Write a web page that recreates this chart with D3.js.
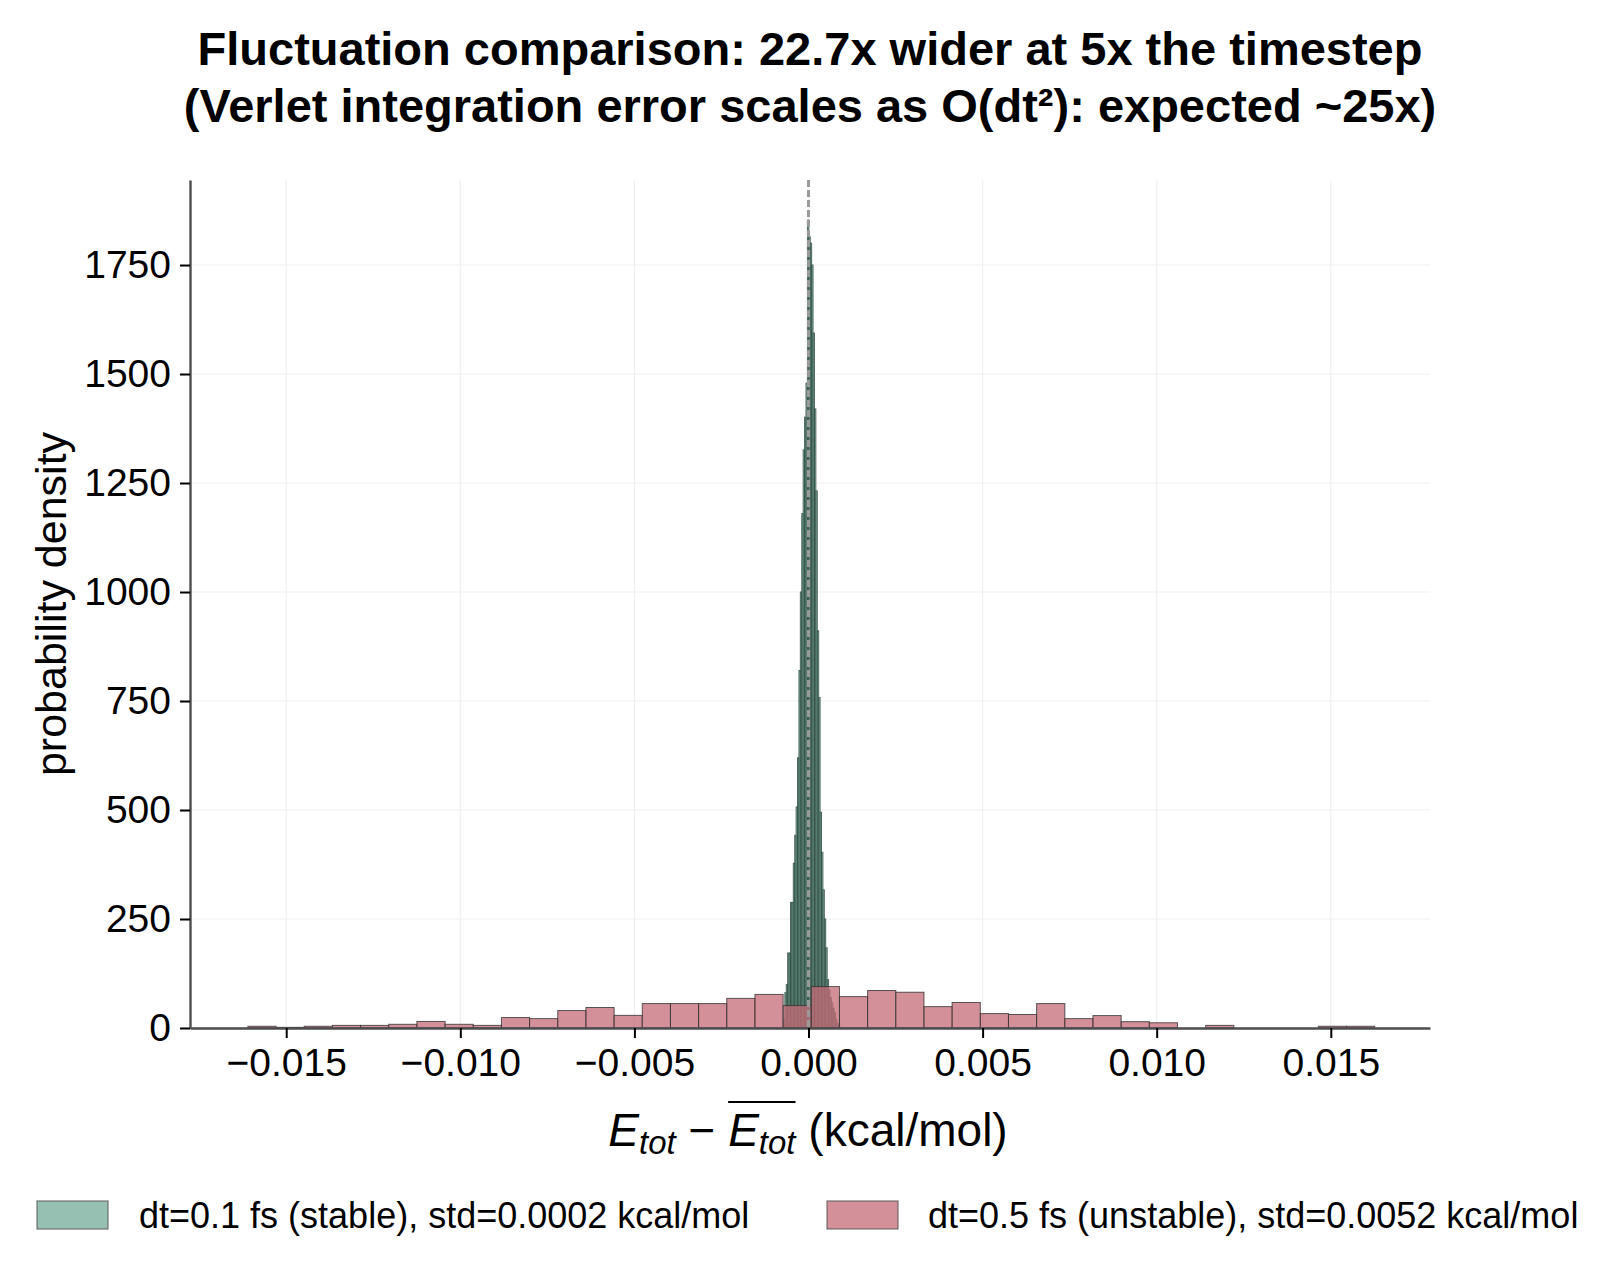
<!DOCTYPE html>
<html>
<head>
<meta charset="utf-8">
<script src="https://cdn.jsdelivr.net/npm/d3@7"></script>
<style>
  body { margin: 0; background: #fff; }
  text { font-family: "Liberation Sans", Arial, Helvetica, sans-serif; fill: #000; }
</style>
</head>
<body>
<script>
// chart text
const titleLines = [
  'Fluctuation comparison: 22.7x wider at 5x the timestep',
  '(Verlet integration error scales as O(dt\u00b2): expected ~25x)'
]
const yLabel = 'probability density'
const legendLabels = [
  'dt=0.1 fs (stable), std=0.0002 kcal/mol',
  'dt=0.5 fs (unstable), std=0.0052 kcal/mol'
]

// axes
const xTicks = [-0.015, -0.010, -0.005, 0.000, 0.005, 0.010, 0.015]
const yTicks = [0, 250, 500, 750, 1000, 1250, 1500, 1750]

// dt=0.1 fs histogram (40 bins over this range), density
const stableRange = [-0.00072, 0.00090]
const stableDensity = [
  20, 81, 100, 172, 172, 288, 288, 378, 442, 507,
  620, 820, 1000, 1180, 1326, 1401, 1479, 1853, 1815, 1800,
  1750, 1594, 1420, 1232, 911, 758, 495, 403, 317, 250,
  184, 111, 87, 70, 58, 45, 35, 19, 10, 5
]

// dt=0.5 fs histogram (40 bins over this range)
const unstableRange = [-0.0161, 0.01626]
const unstableDensity = [
  4, 1.5, 4, 6, 6, 8.5, 15, 8.5, 6, 24,
  21.5, 40, 47, 29, 56, 56, 56, 68, 77, 51.5,
  95, 72, 86, 82, 49, 58.5, 33, 31, 56, 21.5,
  28.5, 14.5, 12, 0, 6, 0, 0, 0, 4, 4
]

const GREEN = '#73ab98'
const RED = '#c66b76'
const ALPHA = 0.75

const width = 1617
const height = 1270
const plot = { left: 190, right: 1430, top: 180, bottom: 1028 }

const svg = d3.select('body').append('svg')
  .attr('width', width)
  .attr('height', height)

const x = d3.scaleLinear().domain([-0.017763, 0.017849]).range([plot.left, plot.right])
const y = d3.scaleLinear().domain([0, 1945]).range([plot.bottom, plot.top])

function toBins(range, dens) {
  const w = (range[1] - range[0]) / dens.length
  return dens.map((d, i) => ({ x0: range[0] + i * w, x1: range[0] + (i + 1) * w, d: d }))
}

// grid
const grid = svg.append('g')
grid.selectAll('line.gy').data(yTicks).enter().append('line')
  .attr('x1', plot.left).attr('x2', plot.right)
  .attr('y1', d => y(d)).attr('y2', d => y(d))
  .attr('stroke', '#efefef').attr('stroke-width', 1.2)
grid.selectAll('line.gx').data(xTicks).enter().append('line')
  .attr('y1', plot.top).attr('y2', plot.bottom)
  .attr('x1', d => x(d)).attr('x2', d => x(d))
  .attr('stroke', '#efefef').attr('stroke-width', 1.2)

// histograms
function drawHist(bins, color, edge) {
  svg.append('g').selectAll('rect').data(bins).enter().append('rect')
    .attr('x', d => x(d.x0))
    .attr('width', d => x(d.x1) - x(d.x0))
    .attr('y', d => y(d.d))
    .attr('height', d => y(0) - y(d.d))
    .attr('fill', color)
    .attr('fill-opacity', ALPHA)
    .attr('stroke', edge)
    .attr('stroke-opacity', 0.8)
    .attr('stroke-width', 1)
}
drawHist(toBins(stableRange, stableDensity), GREEN, '#2c4840')
drawHist(toBins(unstableRange, unstableDensity), RED, '#333')

// mean line
svg.append('line')
  .attr('x1', x(0)).attr('x2', x(0))
  .attr('y1', plot.top).attr('y2', plot.bottom)
  .attr('stroke', '#9a9a9a').attr('stroke-width', 3)
  .attr('stroke-dasharray', '7,3')

// axes
const xAxis = svg.append('g')
  .attr('transform', `translate(0,${plot.bottom})`)
  .call(d3.axisBottom(x).tickValues(xTicks).tickFormat(d3.format('.3f')).tickSize(10).tickSizeOuter(0).tickPadding(10))
const yAxis = svg.append('g')
  .attr('transform', `translate(${plot.left},0)`)
  .call(d3.axisLeft(y).tickValues(yTicks).tickFormat(d3.format('d')).tickSize(10).tickSizeOuter(0).tickPadding(9))

;[xAxis, yAxis].forEach(ax => {
  ax.select('.domain').attr('stroke', '#4d4d4d').attr('stroke-width', 2.4)
  ax.selectAll('.tick line').attr('stroke', '#000').attr('stroke-width', 2)
  ax.selectAll('.tick text')
    .style('font-family', '"Liberation Sans", Arial, sans-serif')
    .style('font-size', '39px')
    .attr('fill', '#000')
})

// title
svg.append('g').selectAll('text').data(titleLines).enter().append('text')
  .attr('x', 810)
  .attr('y', (d, i) => 65 + i * 57)
  .attr('text-anchor', 'middle')
  .style('font-size', '47px')
  .style('font-weight', 'bold')
  .text(d => d)

// y label
svg.append('text')
  .attr('transform', 'translate(66,604) rotate(-90)')
  .attr('text-anchor', 'middle')
  .style('font-size', '43px')
  .text(yLabel)

// x label with math
const xl = svg.append('text')
  .attr('x', 808).attr('y', 1146)
  .attr('text-anchor', 'middle')
  .style('font-size', '46px')
xl.append('tspan').style('font-style', 'italic').text('E')
xl.append('tspan').style('font-style', 'italic').style('font-size', '33px').attr('dy', 8).text('tot')
xl.append('tspan').attr('dy', -8).text(' \u2212 ')
xl.append('tspan').style('font-style', 'italic').text('E')
xl.append('tspan').style('font-style', 'italic').style('font-size', '33px').attr('dy', 8).text('tot')
xl.append('tspan').attr('dy', -8).text(' (kcal/mol)')

// overline over second E_tot (chars: E t o t _ − _ E t o t ...)
const full = xl.node()
const start = full.getExtentOfChar(7)
const end = full.getExtentOfChar(10)
svg.append('line')
  .attr('x1', start.x).attr('x2', end.x + end.width)
  .attr('y1', 1102).attr('y2', 1102)
  .attr('stroke', '#000').attr('stroke-width', 2)

// legend
const legendItems = [
  { label: legendLabels[0], color: GREEN, px: 37, tx: 139 },
  { label: legendLabels[1], color: RED, px: 827, tx: 928 }
]
const li = svg.append('g').selectAll('g').data(legendItems).enter().append('g')
li.append('rect')
  .attr('x', d => d.px).attr('y', 1201)
  .attr('width', 71).attr('height', 28)
  .attr('fill', d => d.color)
  .attr('fill-opacity', ALPHA)
  .attr('stroke', '#555').attr('stroke-opacity', 0.8).attr('stroke-width', 1.2)
li.append('text')
  .attr('x', d => d.tx).attr('y', 1228)
  .style('font-size', '36px')
  .text(d => d.label)
</script>
</body>
</html>
